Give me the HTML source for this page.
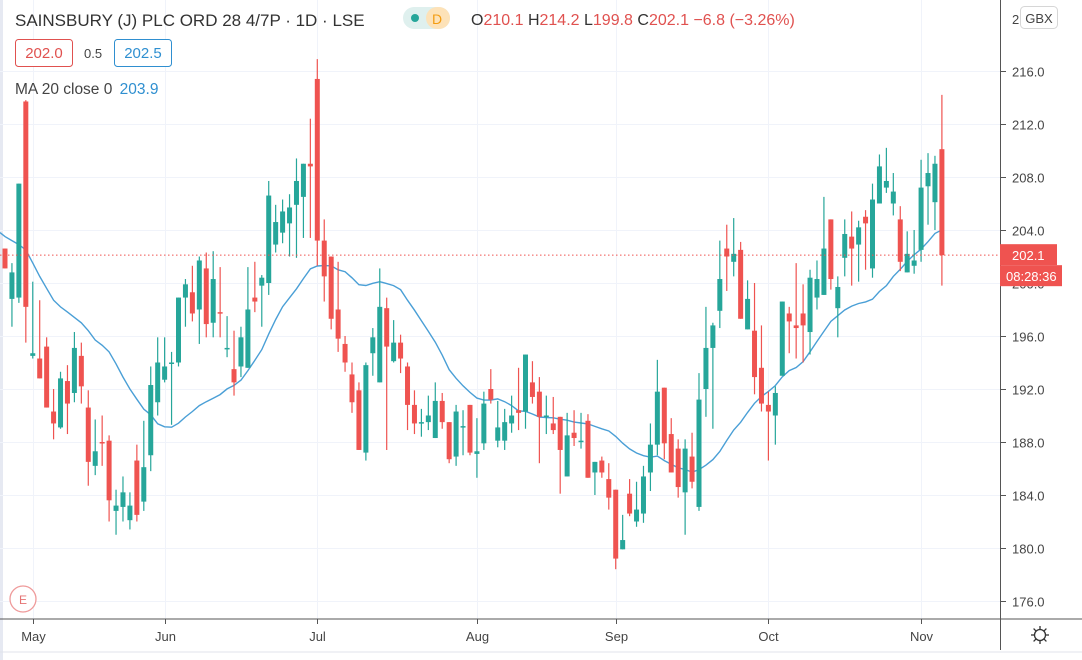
<!DOCTYPE html>
<html><head><meta charset="utf-8"><style>
body{margin:0;background:#fff;font-family:"Liberation Sans",sans-serif;}
svg{display:block}
</style></head><body>
<svg id="chart" width="1082" height="660" xmlns="http://www.w3.org/2000/svg" font-family="Liberation Sans, sans-serif">
<rect x="0" y="0" width="1082" height="660" fill="#fff"/>
<rect x="0" y="0" width="3" height="660" fill="#e6e9f2"/>
<g id="grid"></g>
<g id="ma"></g>
<g id="candles"></g>
<line x1="0" y1="619" x2="1082" y2="619" stroke="#555" stroke-width="1"/>
<line x1="1000.5" y1="0" x2="1000.5" y2="650" stroke="#555" stroke-width="1"/>
<line x1="0" y1="652" x2="1082" y2="652" stroke="#e0e3eb" stroke-width="1"/>
<g id="yaxis"></g>
<g id="xaxis"></g>
<g>
<text x="15" y="26" font-size="17" fill="#333">SAINSBURY (J) PLC ORD 28 4/7P · 1D · LSE</text>
<rect x="403" y="7" width="47" height="22" rx="11" fill="#dff0ee"/>
<rect x="426" y="7" width="24" height="22" rx="11" fill="#fde2b8"/>
<circle cx="415" cy="18" r="4" fill="#26a69a"/>
<text x="432" y="24" font-size="14" fill="#f39c12">D</text>
<text x="471" y="25" font-size="16" fill="#333">O<tspan fill="#e0514f">210.1</tspan> H<tspan fill="#e0514f">214.2</tspan> L<tspan fill="#e0514f">199.8</tspan> C<tspan fill="#e0514f">202.1</tspan> <tspan fill="#e0514f">−6.8 (−3.26%)</tspan></text>
<rect x="15.5" y="39.5" width="57" height="27" rx="3" fill="#fff" stroke="#e0514f"/>
<text x="44" y="58" font-size="15" fill="#e0514f" text-anchor="middle">202.0</text>
<text x="84" y="58" font-size="13" fill="#444">0.5</text>
<rect x="114.5" y="39.5" width="57" height="27" rx="3" fill="#fff" stroke="#2f8fd0"/>
<text x="143" y="58" font-size="15" fill="#2f8fd0" text-anchor="middle">202.5</text>
<text x="15" y="94" font-size="15.5" fill="#444">MA 20 close 0 <tspan fill="#2f8fd0" dx="3">203.9</tspan></text>
</g>
<rect x="1020.5" y="6.5" width="37" height="22" rx="4" fill="#fff" stroke="#d6d6d6"/>
<text x="1039" y="23" font-size="13" fill="#444" text-anchor="middle">GBX</text>
<text x="1012" y="24" font-size="13" fill="#444">2</text>
<g id="lastprice"></g>
<circle cx="23" cy="599" r="13" fill="#fff" stroke="#ef9a9a" stroke-width="1.3"/>
<text x="23" y="604" font-size="12" fill="#e57373" text-anchor="middle">E</text>
<g transform="translate(1040,635)">
<circle cx="0" cy="0" r="5.5" fill="none" stroke="#333" stroke-width="1.3"/>
<g stroke="#333" stroke-width="1.3"><line x1="0" y1="-9" x2="0" y2="-6"/><line x1="0" y1="6" x2="0" y2="9"/><line x1="-9" y1="0" x2="-6" y2="0"/><line x1="6" y1="0" x2="9" y2="0"/><line x1="-6.4" y1="-6.4" x2="-4.2" y2="-4.2"/><line x1="4.2" y1="4.2" x2="6.4" y2="6.4"/><line x1="-6.4" y1="6.4" x2="-4.2" y2="4.2"/><line x1="4.2" y1="-4.2" x2="6.4" y2="-6.4"/></g>
</g>
</svg>
<script>
const opens=[202.6,198.8,198.9,213.7,194.5,194.3,195.2,190.3,189.1,192.6,191.7,194.5,190.6,186.2,188.0,188.1,182.8,183.1,182.1,186.6,183.5,187.0,191.0,192.7,193.9,194.0,198.9,199.3,198.0,201.1,197.0,197.8,195.0,193.5,193.7,193.6,198.9,199.8,200.0,202.9,203.8,204.5,205.9,206.5,209.0,215.4,203.2,202.0,198.0,195.4,193.1,191.9,187.2,194.7,192.5,198.1,194.1,195.5,193.7,190.8,189.4,189.5,188.3,191.1,189.5,186.9,189.1,190.8,187.1,187.9,192.0,188.1,188.1,189.4,190.4,190.3,192.5,191.8,189.9,189.4,189.9,185.4,188.7,188.0,189.6,185.7,186.6,185.2,184.4,179.9,184.1,182.0,182.6,185.7,187.8,192.1,188.6,187.5,184.2,186.9,183.1,192.0,195.1,197.9,202.6,201.6,202.5,196.5,196.4,193.6,190.8,190.0,193.0,197.7,196.8,197.7,196.3,198.9,199.1,204.8,198.1,201.9,203.5,202.9,205.0,201.1,206.0,207.2,206.0,204.8,200.8,201.3,202.5,207.3,206.1,210.1];
const highs=[202.6,201.5,207.5,213.8,200.1,198.7,195.9,192.0,193.3,193.8,196.3,195.5,191.9,189.7,190.0,188.5,184.4,185.4,184.2,187.8,189.6,193.7,195.9,195.9,194.8,198.9,200.3,201.3,202.0,202.3,202.4,201.2,197.5,196.4,196.7,201.2,201.6,200.6,207.7,205.9,206.3,206.7,209.4,209.0,212.4,216.9,204.8,202.0,201.6,196.0,194.0,192.5,194.0,196.6,201.1,198.9,197.2,196.1,194.0,191.9,190.5,191.5,192.5,191.7,189.5,190.8,190.4,190.8,189.8,191.8,193.5,191.1,190.5,191.5,193.6,194.6,194.1,192.9,191.5,191.4,189.9,190.2,190.4,190.2,190.1,186.5,186.9,186.4,184.4,182.5,185.2,185.0,186.2,189.4,194.2,192.1,189.8,188.2,188.2,188.7,193.2,198.2,197.0,203.2,204.4,204.9,203.1,200.2,200.0,196.8,191.8,192.2,198.6,198.2,201.5,199.9,201.0,201.7,206.5,204.8,200.5,204.8,205.4,204.7,205.5,207.5,209.7,210.2,208.3,205.8,203.9,204.0,209.3,209.8,209.6,214.2];
const lows=[201.1,196.7,198.5,195.5,194.3,192.8,190.6,188.2,189.0,188.6,191.0,190.9,184.7,185.5,186.2,182.0,181.0,182.0,181.4,182.0,182.8,185.8,190.0,192.5,189.3,193.7,196.7,197.1,195.4,195.9,195.9,195.9,194.4,191.5,192.9,193.6,197.8,196.7,199.1,202.3,203.0,202.0,201.9,203.4,203.4,201.3,198.6,196.5,194.8,193.3,190.2,187.4,186.6,193.0,192.5,187.4,194.0,193.2,188.9,188.6,188.4,188.9,188.3,189.0,186.4,186.2,187.0,187.0,185.3,187.4,190.9,187.6,187.4,188.7,188.9,189.0,190.9,186.4,188.6,188.6,184.1,185.4,187.7,187.5,185.3,184.0,185.3,182.9,178.4,179.9,182.4,181.6,181.9,184.3,187.0,186.7,185.7,183.8,181.0,184.5,182.8,189.9,189.0,196.6,199.4,200.5,197.3,196.5,191.6,190.3,186.6,187.8,193.0,194.7,194.3,194.0,194.6,198.0,199.1,199.5,195.9,200.5,199.8,200.1,201.0,200.4,206.0,206.8,205.1,200.9,200.8,200.7,201.6,204.4,204.0,199.8];
const closes=[201.1,200.8,207.5,198.2,194.7,192.8,190.6,189.4,192.8,190.9,195.1,192.2,186.5,187.3,187.9,183.6,183.2,184.2,183.2,182.5,186.1,192.3,194.0,193.7,194.0,198.9,199.9,197.7,201.7,196.9,200.3,197.7,195.1,192.5,195.9,198.0,198.6,200.4,206.6,204.6,205.4,205.7,207.7,209.0,208.8,203.2,200.5,197.3,195.8,194.0,191.0,187.4,193.8,195.9,198.2,195.2,195.5,194.3,190.8,189.4,189.5,190.0,191.1,189.5,186.7,190.3,189.2,187.2,187.3,190.9,191.2,189.1,189.5,190.0,190.2,194.6,191.4,189.9,190.0,188.9,187.4,188.5,188.3,188.1,185.3,186.5,185.7,183.8,179.2,180.6,182.6,182.9,185.4,187.8,191.8,187.9,185.7,184.6,187.5,185.0,191.2,195.1,196.8,200.3,202.0,202.2,197.3,198.8,192.9,190.9,190.3,191.7,198.6,197.1,196.6,196.8,200.4,200.3,202.6,200.3,199.7,203.7,202.6,204.2,204.5,206.3,208.8,207.7,206.9,201.6,202.2,201.7,207.2,208.3,209.0,202.1];
// MA values for first 19 bars (history before visible range)
const maPrefix=[203.5,203.2,202.9,202.5,201.5,200.5,199.6,198.7,198.2,197.8,197.4,197.0,196.4,195.7,195.3,194.8,193.9,192.9,192.0];
const priceTicks=[176,180,184,188,192,196,200,204,208,212,216];
const monthLabels=["May","Jun","Jul","Aug","Sep","Oct","Nov"];
const monthIndex=[4,23,45,68,88,110,132];
const lastPrice=202.1;

const NS="http://www.w3.org/2000/svg";
function yS(p){return 71+(216-p)*13.25;}
function xS(i){return 5+i*6.94;}
function mk(tag,attrs,parent){const e=document.createElementNS(NS,tag);for(const k in attrs)e.setAttribute(k,attrs[k]);parent.appendChild(e);return e;}
const grid=document.getElementById('grid'),yax=document.getElementById('yaxis'),xax=document.getElementById('xaxis');
priceTicks.forEach(p=>{
  const y=Math.round(yS(p))+0.5;
  const g=mk('line',{x1:0,y1:y,x2:1000,y2:y,stroke:'#f0f3fa'},grid);
  
  
  const t=mk('line',{x1:1001,y1:y,x2:1006,y2:y,stroke:'#555'},yax);
  
  
  const l=mk('text',{x:1012,y:y+5,'font-size':13,fill:'#444'},yax);
  l.textContent=p.toFixed(1);
  
  
});
monthLabels.forEach((m,k)=>{
  const x=Math.round(xS(monthIndex[k]))+0.5;
  const g=mk('line',{x1:x,y1:0,x2:x,y2:619,stroke:'#f0f3fa'},grid);
  
  
  const t=mk('line',{x1:x,y1:619,x2:x,y2:624,stroke:'#555'},xax);
  
  
  const l=mk('text',{x:x,y:641,'font-size':13,fill:'#444','text-anchor':'middle'},xax);
  l.textContent=m;
  
  
});
// MA
const ma=closes.map((c,i)=>{if(i<19)return maPrefix[i];let s=0;for(let j=i-19;j<=i;j++)s+=closes[j];return s/20;});
const maG=document.getElementById('ma');
const pts=ma.map((v,i)=>xS(i).toFixed(1)+','+yS(v).toFixed(1));
pts.unshift('0,'+yS(maPrefix[0]+0.3).toFixed(1));
const pl=mk('polyline',{points:pts.join(' '),fill:'none',stroke:'#4a9fd6','stroke-width':1.4},maG);


// candles
const cg=document.getElementById('candles');
closes.forEach((c,i)=>{
  const o=opens[i],h=highs[i],l=lows[i];
  const col=c>=o?'#26a69a':'#ef5350';
  const x=xS(i);
  const g=mk('g',{},cg);
  
  
  mk('line',{x1:x,y1:yS(h),x2:x,y2:yS(l),stroke:col,'stroke-width':1.2},g);
  const top=yS(Math.max(o,c)),bot=yS(Math.min(o,c));
  mk('rect',{x:x-2.5,y:top,width:5,height:Math.max(1.5,bot-top),fill:col},g);
});
// last price
const lp=document.getElementById('lastprice');
const ly=yS(lastPrice);
const dl=mk('line',{x1:0,y1:ly,x2:1000,y2:ly,stroke:'#ef5350','stroke-dasharray':'1.5,2.5','stroke-width':1},lp);


const r1=mk('rect',{x:1000,y:ly-11,width:57,height:21,fill:'#ef5350'},lp);


const t1=mk('text',{x:1012,y:ly+5,'font-size':13,fill:'#fff'},lp);
t1.textContent=lastPrice.toFixed(1);


const r2=mk('rect',{x:1000,y:ly+10,width:62,height:21,fill:'#ef5350'},lp);


const t2=mk('text',{x:1006,y:ly+26,'font-size':13,fill:'#fff'},lp);
t2.textContent='08:28:36';


</script>
</body></html>
